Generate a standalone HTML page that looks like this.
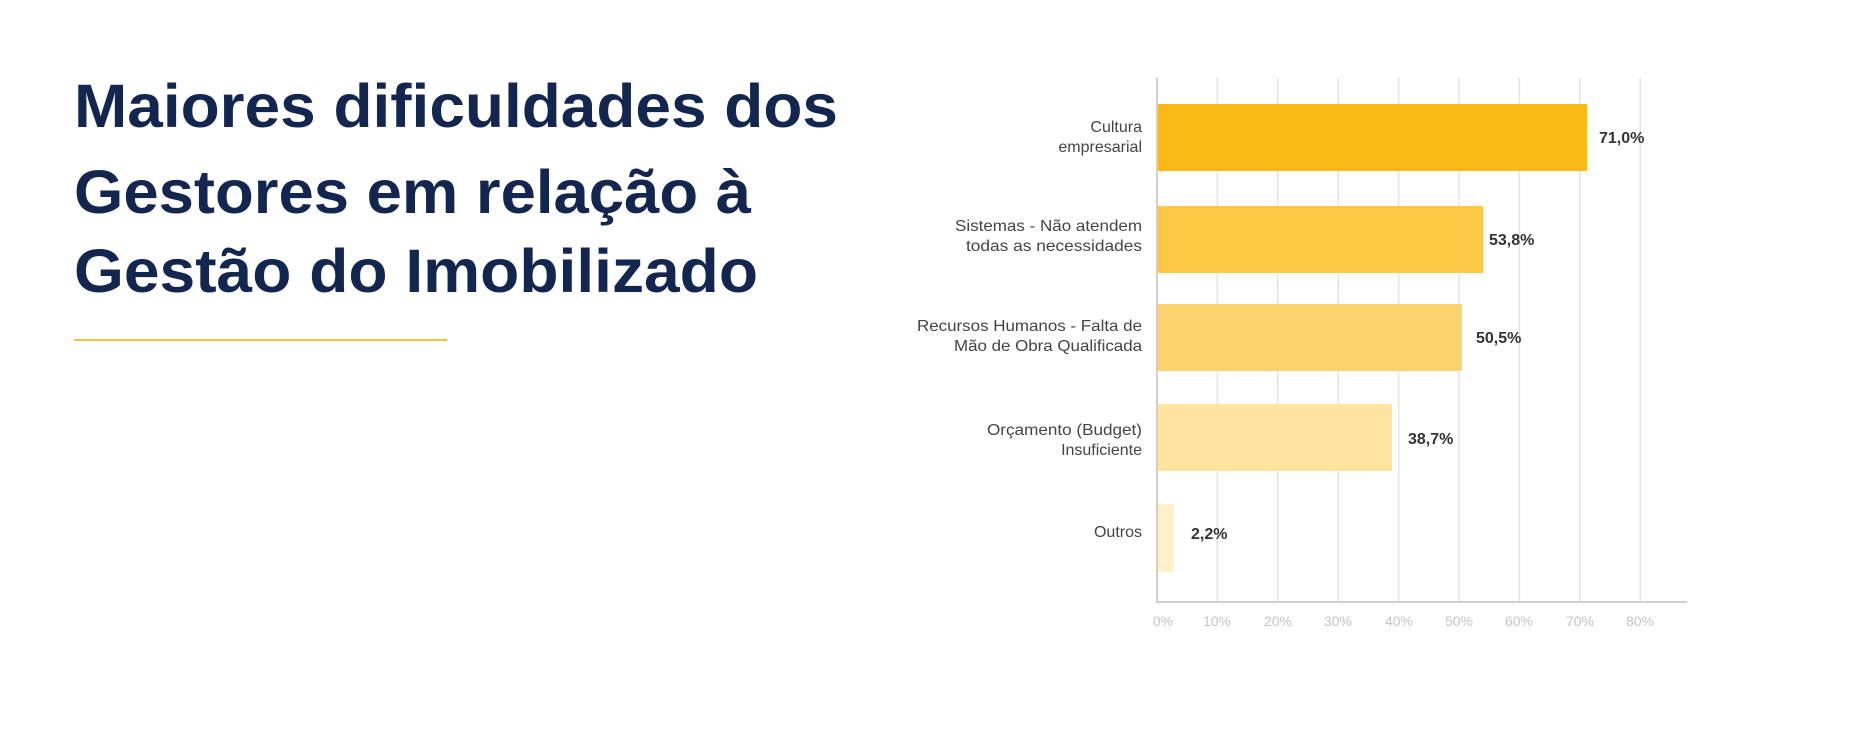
<!DOCTYPE html>
<html><head><meta charset="utf-8"><style>
html,body{margin:0;padding:0;background:#fff;}
svg{display:block;}
</style></head><body>
<svg width="1856" height="732" viewBox="0 0 1856 732" xmlns="http://www.w3.org/2000/svg">
<g font-family="Liberation Sans, sans-serif" font-weight="bold" font-size="61" fill="#13264f">
<text x="74" y="127" textLength="764" lengthAdjust="spacingAndGlyphs">Maiores dificuldades dos</text>
<text x="74" y="213" textLength="677" lengthAdjust="spacingAndGlyphs">Gestores em relação à</text>
<text x="74" y="292" textLength="684" lengthAdjust="spacingAndGlyphs">Gestão do Imobilizado</text>
</g>
<rect x="74" y="339" width="373" height="2" fill="#f9c23c"/>
<g stroke="#e3e3e3" stroke-width="1.5">
<line x1="1217.4" y1="78" x2="1217.4" y2="602"/>
<line x1="1277.8" y1="78" x2="1277.8" y2="602"/>
<line x1="1338.2" y1="78" x2="1338.2" y2="602"/>
<line x1="1398.6" y1="78" x2="1398.6" y2="602"/>
<line x1="1459" y1="78" x2="1459" y2="602"/>
<line x1="1519.4" y1="78" x2="1519.4" y2="602"/>
<line x1="1579.8" y1="78" x2="1579.8" y2="602"/>
<line x1="1640.2" y1="78" x2="1640.2" y2="602"/>
</g>
<line x1="1157" y1="78" x2="1157" y2="603" stroke="#cfcfcf" stroke-width="2"/>
<line x1="1157" y1="602" x2="1687" y2="602" stroke="#cfcfcf" stroke-width="2"/>
<rect x="1158" y="104" width="429" height="67" fill="#fbb917"/>
<rect x="1158" y="206" width="325" height="67" fill="#fcc845"/>
<rect x="1158" y="304" width="304" height="67" fill="#fdd36e"/>
<rect x="1158" y="404" width="234" height="67" fill="#fee49f"/>
<rect x="1158" y="504" width="16" height="68" fill="#fff0c8"/>
<g font-family="Liberation Sans, sans-serif" font-weight="bold" font-size="16" fill="#333">
<text x="1599" y="143">71,0%</text>
<text x="1489" y="245">53,8%</text>
<text x="1476" y="343">50,5%</text>
<text x="1408" y="444">38,7%</text>
<text x="1191" y="539">2,2%</text>
</g>
<g font-family="Liberation Sans, sans-serif" font-size="16" fill="#444" text-anchor="end">
<text x="1142" y="132">Cultura</text>
<text x="1142" y="152">empresarial</text>
<text x="1142" y="231" textLength="187" lengthAdjust="spacingAndGlyphs">Sistemas - Não atendem</text>
<text x="1142" y="251" textLength="176" lengthAdjust="spacingAndGlyphs">todas as necessidades</text>
<text x="1142" y="331" textLength="225" lengthAdjust="spacingAndGlyphs">Recursos Humanos - Falta de</text>
<text x="1142" y="351" textLength="188" lengthAdjust="spacingAndGlyphs">Mão de Obra Qualificada</text>
<text x="1142" y="435" textLength="155" lengthAdjust="spacingAndGlyphs">Orçamento (Budget)</text>
<text x="1142" y="455">Insuficiente</text>
<text x="1142" y="537">Outros</text>
</g>
<g font-family="Liberation Sans, sans-serif" font-size="14" fill="#c4c4c4" text-anchor="middle">
<text x="1163" y="626">0%</text>
<text x="1217" y="626">10%</text>
<text x="1278" y="626">20%</text>
<text x="1338" y="626">30%</text>
<text x="1399" y="626">40%</text>
<text x="1459" y="626">50%</text>
<text x="1519" y="626">60%</text>
<text x="1580" y="626">70%</text>
<text x="1640" y="626">80%</text>
</g>
</svg>
</body></html>
